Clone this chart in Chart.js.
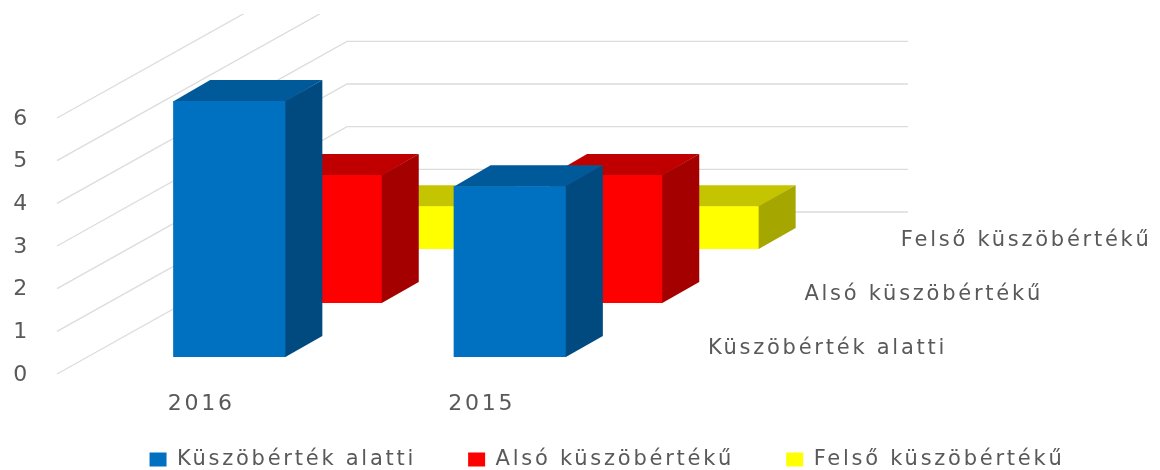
<!DOCTYPE html>
<html><head><meta charset="utf-8">
<style>html,body{margin:0;padding:0;background:#fff}canvas{display:block}</style>
<script src="https://cdn.jsdelivr.net/npm/chart.js@4/dist/chart.umd.min.js"></script>
</head><body><canvas id="c" width="1160" height="470"></canvas>
<script>
const categories = ['2016', '2015'];
const seriesNames = ['Küszöbérték alatti', 'Alsó küszöbértékű', 'Felső küszöbértékű'];
const belowThreshold = [6, 4];
const lowerThreshold = [3, 3];
const upperThreshold = [1, 1];
const yTicks = [0, 1, 2, 3, 4, 5, 6];
const frontColors = ['#0070C0', '#FF0000', '#FFFF00'];
const topColors = ['#005A9A', '#C00000', '#C4C400'];
const sideColors = ['#004A80', '#A40000', '#A6A600'];

const TEXT = '#595959';
const FONT = {family: '"DejaVu Sans", sans-serif', size: 21};
const SPACING = '2.75px';
const DEPTH = {x: 37, y: 21};
const STEP = {x: 96.4, y: 54};
const WALL = {x: 57, yOffset: 17, dx: 290, dy: 162, right: 908, clipTop: 14};

function applySpacing(chart){ chart.ctx.letterSpacing = SPACING; }

const threeD = {
  id: 'threeD',
  beforeLayout: applySpacing,
  afterLayout(chart){
    const {legend, scales:{x, y}} = chart;
    // widen the label clip boxes so the offset tick labels stay visible
    y.left = 0;
    x.bottom = 430;
    legend.top += 10; legend.bottom += 10;
  },
  beforeDraw(chart){
    applySpacing(chart);
    const {ctx, scales:{y}} = chart;
    ctx.save();
    ctx.beginPath(); ctx.rect(0, WALL.clipTop, chart.width, chart.height); ctx.clip();
    ctx.strokeStyle = '#DCDCDC';
    ctx.lineWidth = 1.3;
    yTicks.forEach(v => {
      const py = y.getPixelForValue(v) + WALL.yOffset;
      ctx.beginPath();
      ctx.moveTo(WALL.x, py);
      ctx.lineTo(WALL.x + WALL.dx, py - WALL.dy);
      ctx.lineTo(WALL.right, py - WALL.dy);
      ctx.stroke();
    });
    ctx.restore();
    // series names on the depth axis
    ctx.save();
    ctx.font = FONT.size + 'px ' + FONT.family;
    ctx.fillStyle = TEXT;
    ctx.textBaseline = 'middle';
    seriesNames.forEach((n, k) => ctx.fillText(n, 708 + STEP.x * k, 349 - STEP.y * k));
    ctx.restore();
  },
  beforeDatasetDraw(chart, args){
    const {ctx} = chart, k = args.index, meta = args.meta;
    ctx.save();
    ctx.translate(STEP.x * k, -STEP.y * k);
    meta.data.forEach(bar => {
      const p = bar.getProps(['x','y','base','width'], true);
      const l = p.x - p.width/2, r = p.x + p.width/2;
      ctx.fillStyle = topColors[k];
      ctx.beginPath();
      ctx.moveTo(l, p.y + 0.5); ctx.lineTo(l + DEPTH.x, p.y - DEPTH.y);
      ctx.lineTo(r + DEPTH.x, p.y - DEPTH.y); ctx.lineTo(r, p.y + 0.5);
      ctx.closePath(); ctx.fill();
      ctx.fillStyle = sideColors[k];
      ctx.beginPath();
      ctx.moveTo(r - 1, p.y); ctx.lineTo(r, p.y); ctx.lineTo(r + DEPTH.x, p.y - DEPTH.y);
      ctx.lineTo(r + DEPTH.x, p.base - DEPTH.y); ctx.lineTo(r, p.base); ctx.lineTo(r - 1, p.base);
      ctx.closePath(); ctx.fill();
    });
  },
  afterDatasetDraw(chart){ chart.ctx.restore(); }
};

Chart.defaults.font.family = FONT.family;
Chart.defaults.font.size = FONT.size;
Chart.defaults.color = TEXT;

new Chart(document.getElementById('c'), {
  type: 'bar',
  plugins: [threeD],
  data: {
    labels: categories,
    datasets: [belowThreshold, lowerThreshold, upperThreshold].map((d, k) => ({
      label: seriesNames[k], data: d, backgroundColor: frontColors[k],
      borderWidth: 0, clip: false, grouped: false,
      categoryPercentage: 1, barPercentage: 0.4
    }))
  },
  options: {
    responsive: false, animation: false,
    layout: {padding: {left: 54, top: 101, right: 0, bottom: 0}},
    plugins: {
      tooltip: {enabled: false},
      legend: {position: 'bottom', labels: {boxWidth: 17, boxHeight: 14, padding: 52, color: TEXT, font: FONT}}
    },
    scales: {
      x: {
        grid: {display: false}, border: {display: false},
        ticks: {autoSkip: false, maxRotation: 0, minRotation: 0, padding: 26, labelOffset: -28, font: {size: 22}},
        afterFit(s){ s.height = 30; }
      },
      y: {
        min: 0, max: 6, grid: {display: false, drawTicks: false}, border: {display: false},
        ticks: {stepSize: 1, padding: 59, labelOffset: 18, font: {size: 22}},
        afterFit(s){ s.width = 35; }
      },
      pad: {
        axis: 'y', position: 'right', grid: {display: false}, border: {display: false},
        ticks: {display: false},
        afterFit(s){ s.width = 510; }
      }
    }
  }
});
</script></body></html>
